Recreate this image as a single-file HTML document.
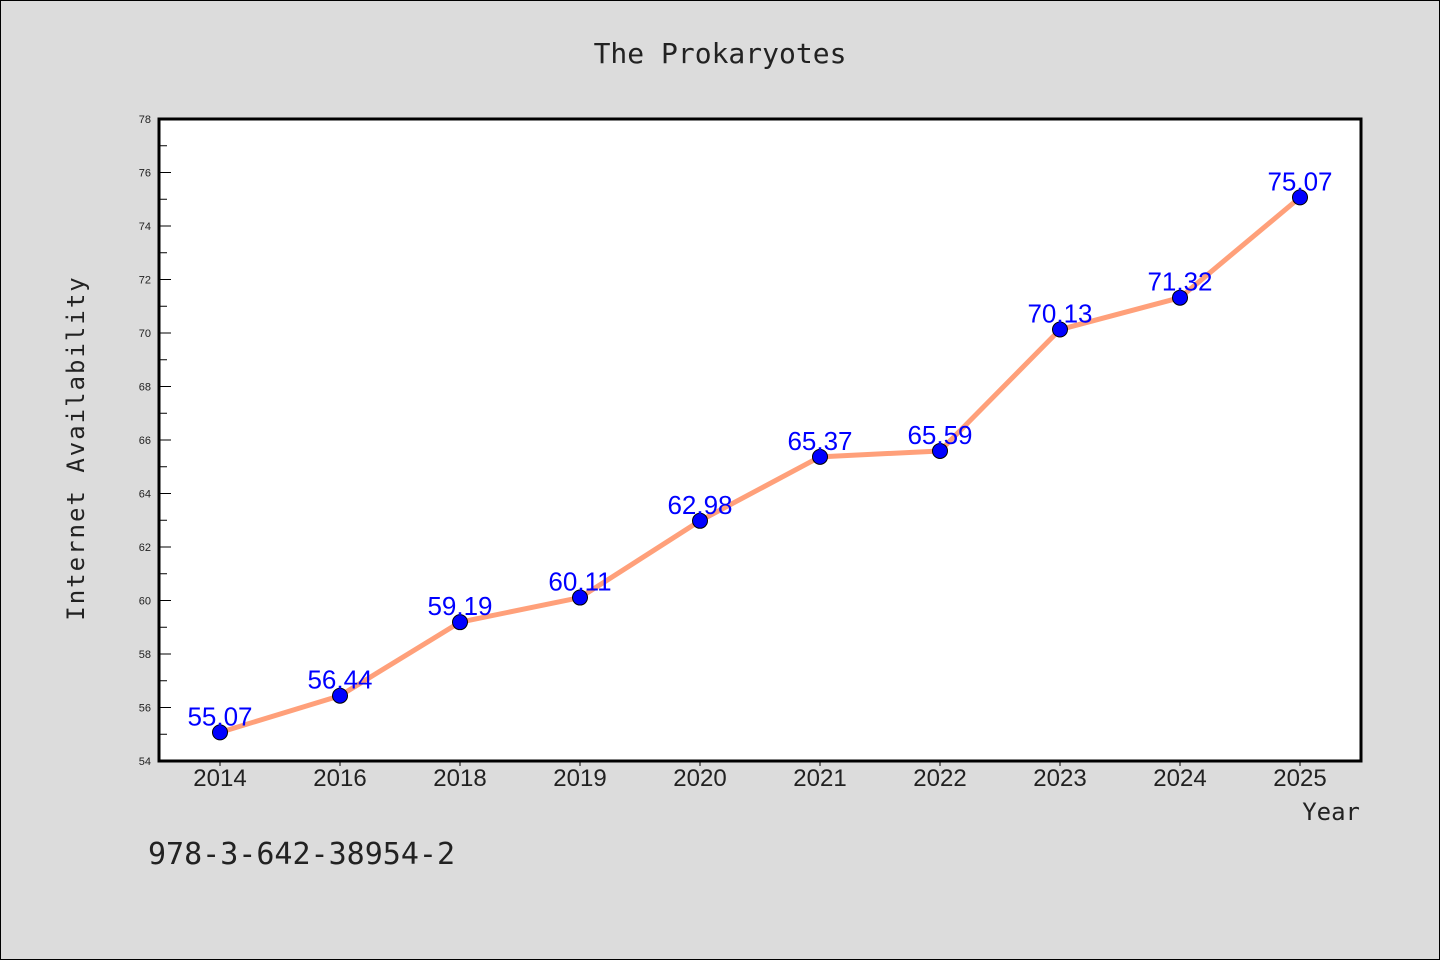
<!DOCTYPE html>
<html><head><meta charset="utf-8"><style>
body{margin:0;background:#dcdcdc;}
svg{display:block;}
</style></head><body>
<svg width="1440" height="960" xmlns="http://www.w3.org/2000/svg">
<rect x="0.5" y="0.5" width="1439" height="959" fill="#dcdcdc" stroke="#000"/>
<text x="720" y="63" text-anchor="middle" font-family="'WenQuanYi Zen Hei','DejaVu Sans Mono',monospace" font-size="28" fill="#222">The Prokaryotes</text>
<rect x="159" y="119" width="1202" height="642" fill="#fff"/>
<g id="ticks"></g>
<g id="series"></g>
<rect x="159" y="119" width="1202" height="642" fill="none" stroke="#000" stroke-width="3"/>
<text transform="translate(84,448) rotate(-90)" text-anchor="middle" font-family="'WenQuanYi Zen Hei','DejaVu Sans Mono',monospace" font-size="24" fill="#222" letter-spacing="2">Internet Availability</text>
<text x="1360" y="820" text-anchor="end" font-family="'WenQuanYi Zen Hei','DejaVu Sans Mono',monospace" font-size="24" fill="#222">Year</text>
<text x="148" y="864" font-family="'WenQuanYi Zen Hei','DejaVu Sans Mono',monospace" font-size="30" fill="#222">978-3-642-38954-2</text>
</svg>
<script>
const categories=["2014","2016","2018","2019","2020","2021","2022","2023","2024","2025"];
const values=[55.07,56.44,59.19,60.11,62.98,65.37,65.59,70.13,71.32,75.07];
const yTicks=[54,56,58,60,62,64,66,68,70,72,74,76,78];
const NS="http://www.w3.org/2000/svg";
const L=159,R=1361,T=119,B=761,yMin=54,yMax=78;
function xs(i){return 220+i*120;}
function ys(v){return B-(v-yMin)/(yMax-yMin)*(B-T);}
function mk(tag,a,parent){const e=document.createElementNS(NS,tag);for(const k in a)e.setAttribute(k,a[k]);parent.appendChild(e);return e;}
const tg=document.getElementById('ticks'),sg=document.getElementById('series');
yTicks.forEach((v,i)=>{
 const y=ys(v);
 const t=mk('line',{x1:L,x2:L+12,y1:y,y2:y,stroke:'#000','stroke-width':1},tg);
 
 
 const lb=mk('text',{x:L-8,y:y+4,'text-anchor':'end','font-family':'Liberation Sans,sans-serif','font-size':11,fill:'#222'},tg);
 lb.textContent=v;
 
 
 if(i<yTicks.length-1){
  const ym=ys(v+1);
  const m=mk('line',{x1:L,x2:L+8,y1:ym,y2:ym,stroke:'#000','stroke-width':1},tg);
  
  
 }
});
categories.forEach((c,i)=>{
 const x=xs(i);
 const t=mk('line',{x1:x,x2:x,y1:B,y2:B+5,stroke:'#000','stroke-width':1},tg);
 
 
 const lb=mk('text',{x:x,y:B+25,'text-anchor':'middle','font-family':'Liberation Sans,sans-serif','font-size':24,fill:'#222'},tg);
 lb.textContent=c;
 
 
});
const line=mk('polyline',{points:values.map((v,i)=>xs(i)+','+ys(v)).join(' '),fill:'none',stroke:'#ffa07a','stroke-width':5,'stroke-linejoin':'round'},sg);


values.forEach((v,i)=>{
 const c=mk('circle',{cx:xs(i),cy:ys(v),r:7.5,fill:'#0000ff',stroke:'#000','stroke-width':1},sg);
 
 
 const lb=mk('text',{x:xs(i),y:ys(v)-7,'text-anchor':'middle','font-family':'Liberation Sans,sans-serif','font-size':26,fill:'#0000ff'},sg);
 lb.textContent=v.toFixed(2);
 
 
});
</script>
</body></html>
